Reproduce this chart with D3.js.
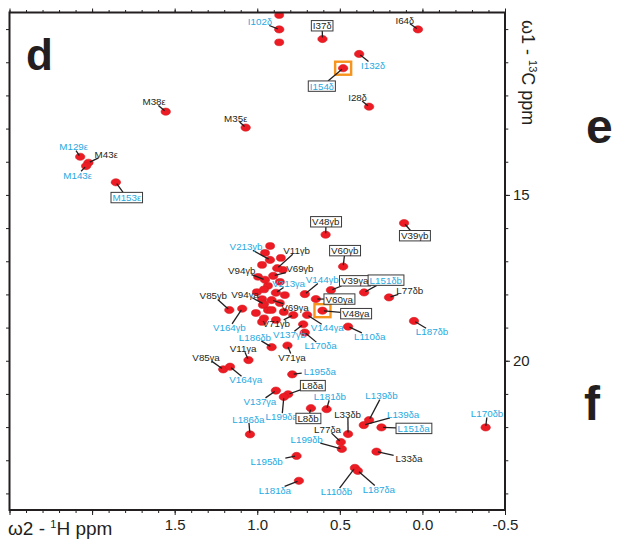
<!DOCTYPE html>
<html><head><meta charset="utf-8">
<script src="https://cdn.jsdelivr.net/npm/d3@7"></script>
<style>
body{margin:0;background:#fff}
svg{display:block}
text{font-family:"Liberation Sans",Arial,Helvetica,sans-serif}
</style>
</head><body>
<svg id="c" width="620" height="541"></svg>
<script>
// ---- data (ppm) ----
const peakNames = ["I102δ","I37δ","I64δ","I132δ","I154δ","I28δ","M35ε","M38ε","M129ε","M43ε",
  "M143ε","M153ε","V48γb","V60γb","V39γb","V213γb","V11γb","V94γb","V69γb","V213γa",
  "V144γb","V39γa","V60γa","V48γa","L151δb","L77δb","L187δb","L110δa","L170δa","V144γa",
  "V137γb","V71γb","V69γa","V94γa","V85γb","V164γb","L186δb","V11γa","V71γa","V85γa",
  "V164γa","L195δa","L8δa","V137γa","L199δa","L181δb","L8δb","L186δa","L33δb","L77δa",
  "L199δb","L195δb","L181δa","L110δb","L187δa","L139δb","L139δa","L151δa","L33δa","L170δb"];
const peakH = [0.867,0.605,0.027,0.383,0.480,0.323,1.070,1.554,2.072,2.022,
  2.036,1.856,0.586,0.480,0.111,0.923,0.879,0.953,0.903,0.887,
  0.712,0.554,0.645,0.605,0.353,0.202,0.051,0.450,0.712,0.698,
  0.722,0.782,0.913,0.959,1.169,1.091,0.913,1.053,0.817,1.206,
  1.165,0.788,0.813,0.887,0.839,0.580,0.675,1.044,0.450,0.494,
  0.488,0.762,0.748,0.409,0.391,0.323,0.355,0.248,0.278,-0.383];
const peakC = [10.01,10.30,10.01,10.75,11.18,12.34,12.97,12.49,13.85,14.03,
  14.13,14.62,16.20,17.16,15.85,16.96,17.21,17.56,17.44,17.95,
  17.99,17.87,18.14,18.49,17.94,18.09,18.80,18.97,19.15,18.62,
  18.90,18.62,18.17,18.29,18.47,18.43,19.59,19.98,19.54,20.26,
  20.18,20.41,21.01,20.90,21.09,21.46,21.43,22.22,22.21,22.45,
  22.66,22.87,23.62,23.23,23.32,21.79,21.94,22.01,22.74,22.01];
// label anchor positions (ppm)
const labelH = [0.984,0.607,0.107,0.299,0.609,0.393,1.131,1.625,2.112,1.915,
  2.088,1.790,0.585,0.470,0.047,1.068,0.762,1.094,0.742,0.810,
  0.607,0.410,0.504,0.403,0.222,0.077,-0.058,0.319,0.617,0.576,
  0.805,0.885,0.772,1.074,1.266,1.169,1.014,1.086,0.790,1.310,
  1.070,0.621,0.665,0.984,0.852,0.560,0.692,1.054,0.453,0.575,
  0.701,0.943,0.893,0.520,0.264,0.248,0.117,0.053,0.081,-0.391];
const labelC = [9.78,9.90,9.73,11.09,11.72,12.06,12.69,12.19,13.55,13.77,
  14.40,15.08,15.81,16.68,16.23,16.56,16.68,17.29,17.23,17.68,
  17.56,17.59,18.14,18.58,17.57,17.89,19.13,19.27,19.55,19.01,
  19.22,18.88,18.39,17.99,18.04,19.00,19.29,19.63,19.89,19.90,
  20.58,20.31,20.75,21.23,21.69,21.08,21.74,21.76,21.61,22.07,
  22.37,23.04,23.90,23.95,23.87,21.06,21.61,22.04,22.96,21.60];
// c = cyan assignment, k = black assignment
const peakGroup = ["c","k","k","c","c","k","k","k","c","k",
  "c","c","k","k","k","c","k","k","k","c",
  "c","k","k","k","c","k","c","c","c","c",
  "c","k","k","k","k","c","c","k","k","k",
  "c","c","k","c","c","c","k","c","k","k",
  "c","c","c","c","c","c","c","c","k","c"];
const boxedLabels = ["I37δ","I154δ","M153ε","V48γb","V60γb","V39γb","V39γa","V60γa","V48γa",
  "L151δb","L8δa","L8δb","L151δa"];
const markedPeaks = ["I154δ","V48γa"];
// unassigned cross peaks
const extraH = [0.867,0.867,0.922,0.953,0.857,0.971,0.845,0.995,0.863,0.935,1.002,0.833,
  0.971,0.863,0.935,0.839,1.008,0.887,0.971,0.966,0.959,0.913,0.959];
const extraC = [9.575,10.40,16.54,16.75,16.90,17.11,17.26,17.47,17.62,17.74,17.93,18.02,
  18.14,18.26,18.47,18.53,18.56,18.77,18.83,18.32,18.72,18.47,17.85];
const xTickLabels = [1.5, 1.0, 0.5, 0.0, -0.5];
const yTickLabels = [15, 20];

// ---- drawing ----
const svg = d3.select("#c");
const ink = "#231f20", cyan = "#27a9e1", red = "#ed1c24";
const x = d3.scaleLinear().domain([2.5, -0.5]).range([9.5, 505]);
const y = d3.scaleLinear().domain([9.5, 24.5]).range([12.5, 510]);
const [X0, X1] = x.range(), [Y0, Y1] = y.range();

svg.append("clipPath").attr("id","clip").append("rect")
  .attr("x",X0).attr("y",Y0).attr("width",X1-X0).attr("height",Y1-Y0);

function drawAxis(axis, tr){
  const g = svg.append("g").attr("transform", tr).call(axis);
  g.select(".domain").remove();
  g.selectAll("line").attr("stroke", ink).attr("stroke-width", 1);
  g.selectAll("text").attr("fill", ink).style("font-size","15px")
    .style("font-family",'"Liberation Sans",Arial,sans-serif');
  return g;
}
const minorX = d3.range(-5, 26).map(i => i/10);
const majorX = d3.range(-1, 6).map(i => i/2);
const minorY = d3.range(10, 25);
drawAxis(d3.axisBottom(x).tickValues(minorX).tickSize(3).tickFormat(""), `translate(0,${Y1})`);
drawAxis(d3.axisBottom(x).tickValues(majorX).tickSize(5).tickPadding(4)
  .tickFormat(d => xTickLabels.some(v => Math.abs(v-d)<1e-9) ? d.toFixed(1) : ""), `translate(0,${Y1})`);
drawAxis(d3.axisTop(x).tickValues(minorX).tickSize(2.5).tickFormat(""), `translate(0,${Y0})`);
drawAxis(d3.axisTop(x).tickValues(majorX).tickSize(4).tickFormat(""), `translate(0,${Y0})`);
drawAxis(d3.axisLeft(y).tickValues(minorY).tickSize(3.5).tickFormat(""), `translate(${X0},0)`);
drawAxis(d3.axisRight(y).tickValues(minorY).tickSize(3.3).tickFormat(""), `translate(${X1},0)`);
drawAxis(d3.axisRight(y).tickValues(yTickLabels).tickSize(5).tickPadding(3).tickFormat(d => d), `translate(${X1},0)`);

// peaks
const peaks = peakNames.map((n,i) => ({name:n, H:peakH[i], C:peakC[i], lH:labelH[i], lC:labelC[i],
  group:peakGroup[i], boxed:boxedLabels.includes(n), marked:markedPeaks.includes(n)}));
const extras = extraH.map((h,i) => ({H:h, C:extraC[i]}));

const pg = svg.append("g").attr("clip-path","url(#clip)");
pg.selectAll("ellipse.ex").data(extras).join("ellipse").attr("class","ex")
  .attr("cx", d => x(d.H)).attr("cy", d => y(d.C)).attr("rx",4.5).attr("ry",3.4)
  .attr("fill", red).attr("stroke","#d71920").attr("stroke-width",0.6);
pg.selectAll("ellipse.pk").data(peaks).join("ellipse").attr("class","pk")
  .attr("cx", d => x(d.H)).attr("cy", d => y(d.C)).attr("rx",4.7).attr("ry",3.6)
  .attr("fill", red).attr("stroke","#d71920").attr("stroke-width",0.6);

// orange marker boxes
svg.append("g").selectAll("rect").data(peaks.filter(d => d.marked)).join("rect")
  .attr("x", d => x(d.H)-8).attr("y", d => y(d.C)-6.5).attr("width",16).attr("height",13)
  .attr("fill","none").attr("stroke","#f7941d").attr("stroke-width",2.4);

// labels and leader lines
const lineG = svg.append("g");
const labG = svg.append("g");
peaks.forEach(d => {
  const ax = x(d.lH), ay = y(d.lC);
  const px = x(d.H), py = y(d.C);
  const g = labG.append("g");
  const m = d.name.match(/^([A-Z]\d+)([δγε])(.*)$/);
  const t = g.append("text").attr("x", ax).attr("y", ay + 3.5).attr("text-anchor","middle")
    .attr("fill", d.group === "c" ? cyan : ink).style("font-size","9.8px");
  t.append("tspan").text(m[1]);
  t.append("tspan").style("font-size","9px").text(m[2]);
  if (m[3]) t.append("tspan").text(m[3]);
  const bb = t.node().getBBox();
  let bx = bb.x - 1.5, by = bb.y + 0.3, bw = bb.width + 3, bh = bb.height - 0.6;
  if (d.boxed) {
    g.insert("rect","text").attr("x",bx).attr("y",by).attr("width",bw).attr("height",bh)
      .attr("fill","#fff").attr("stroke","#3a3a3a").attr("stroke-width",1);
  } else { bx -= 0.5; by += 1.5; bw += 1; bh -= 3; }
  const cx = bx + bw/2, cy = by + bh/2;
  const dx = px - cx, dy = py - cy;
  const tt = Math.min(dx !== 0 ? (bw/2)/Math.abs(dx) : Infinity, dy !== 0 ? (bh/2)/Math.abs(dy) : Infinity);
  if (tt < 1) {
    const sx = cx + dx*tt, sy = cy + dy*tt;
    const L = Math.hypot(px - sx, py - sy);
    const k = Math.max(0, (L - 1.5)/L);
    lineG.append("line").attr("x1",sx).attr("y1",sy)
      .attr("x2", sx + (px-sx)*k).attr("y2", sy + (py-sy)*k)
      .attr("stroke", ink).attr("stroke-width",1.3);
  }
});

// frame
svg.append("rect").attr("x",X0).attr("y",Y0).attr("width",X1-X0).attr("height",Y1-Y0)
  .attr("fill","none").attr("stroke",ink).attr("stroke-width",2);

// axis titles
const bt = svg.append("text").attr("x",8).attr("y",535).attr("fill",ink).style("font-size","19px");
bt.append("tspan").text("ω2 - ");
bt.append("tspan").attr("dy",-7).style("font-size","11px").text("1");
bt.append("tspan").attr("dy",7).text("H ppm");

const rt = svg.append("text").attr("transform","translate(522,20) rotate(90)").attr("fill",ink).style("font-size","18px");
rt.append("tspan").text("ω1 - ");
rt.append("tspan").attr("dy",-7).style("font-size","11px").text("13");
rt.append("tspan").attr("dy",7).text("C ppm");

// panel letters
svg.append("text").attr("x",26).attr("y",70).attr("fill",ink).style("font-size","44px").style("font-weight","bold").text("d");
svg.append("text").attr("x",586).attr("y",143).attr("fill",ink).style("font-size","48px").style("font-weight","bold").text("e");
svg.append("text").attr("x",584).attr("y",420).attr("fill",ink).style("font-size","48px").style("font-weight","bold").text("f");
</script>
</body></html>
